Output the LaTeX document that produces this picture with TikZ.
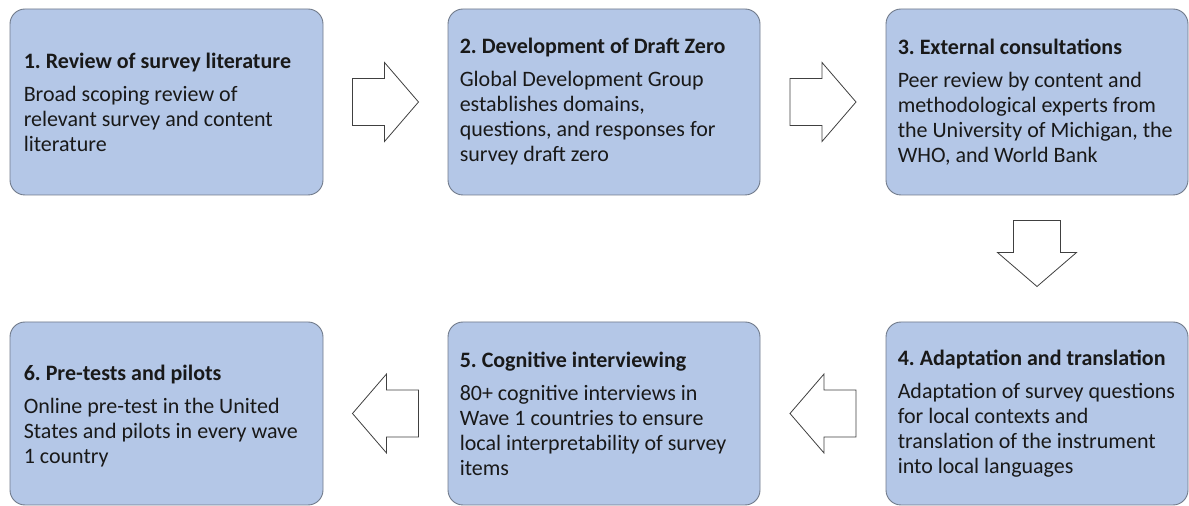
\documentclass[tikz,border=0pt]{standalone}
\usepackage{fontspec}
\setmainfont{Carlito}
\usetikzlibrary{calc}

\definecolor{stagefill}{RGB}{180,199,231}
\definecolor{stageline}{RGB}{112,122,138}

\tikzset{
  stage/.style={draw=stageline, fill=stagefill, rounded corners=15pt, line width=0.9pt},
  stagetext/.style={anchor=west, inner sep=0pt, align=left, text=black!90,
    font=\fontsize{22}{25}\selectfont\frenchspacing},
  blockarrow/.style={draw=black!75, fill=white, line width=0.8pt},
  % block arrow pointing right, centred on the pic origin
  rarrow/.pic={\draw[blockarrow] (-33,-23.5) -- (-1,-23.5) -- (-1,-39.5) -- (33,0)
      -- (-1,39.5) -- (-1,23.5) -- (-33,23.5) -- cycle;}
}

\begin{document}
\begin{tikzpicture}[x=1pt, y=1pt]
  \useasboundingbox (0,0) rectangle (1189,506);

  % top row
  \node[stage, minimum width=313pt, minimum height=186pt] (b1) at (166.5,404) {};
  \node[stage, minimum width=312pt, minimum height=186pt] (b2) at (604,404) {};
  \node[stage, minimum width=302pt, minimum height=186pt] (b3) at (1037,404) {};

  % bottom row
  \node[stage, minimum width=302pt, minimum height=183pt] (b4) at (1037,92.5) {};
  \node[stage, minimum width=312pt, minimum height=183pt] (b5) at (604,92.5) {};
  \node[stage, minimum width=313pt, minimum height=183pt] (b6) at (166.5,92.5) {};

  % texts
  \node[stagetext] (t1) at ([xshift=14pt]b1.west)
    {\textbf{1. Review of survey literature}\\[8pt]Broad scoping review of\\relevant survey and content\\literature};
  \node[stagetext] (t2) at ([xshift=12pt]b2.west)
    {\textbf{2. Development of Draft Zero}\\[8pt]Global Development Group\\establishes domains,\\questions, and responses for\\survey draft zero};
  \node[stagetext] (t3) at ([xshift=12pt]b3.west)
    {\textbf{3. External consultations}\\[8pt]Peer review by content and\\methodological experts from\\the University of Michigan, the\\WHO, and World Bank};
  \node[stagetext] (t4) at ([xshift=12pt]b4.west)
    {\textbf{4. Adaptation and translation}\\[8pt]Adaptation of survey questions\\for local contexts and\\translation of the instrument\\into local languages};
  \node[stagetext] (t5) at ([xshift=12pt]b5.west)
    {\textbf{5. Cognitive interviewing}\\[8pt]80+ cognitive interviews in\\Wave 1 countries to ensure\\local interpretability of survey\\items};
  \node[stagetext] (t6) at ([xshift=14pt, yshift=-3pt]b6.west)
    {\textbf{6. Pre-tests and pilots}\\[8pt]Online pre-test in the United\\States and pilots in every wave\\1 country};

  % arrows between the stages
  \pic at ($(b1.east)!0.5!(b2.west)$) {rarrow};
  \pic at ($(b2.east)!0.5!(b3.west)$) {rarrow};
  \pic[rotate=-90, xshift=-5pt] at ($(b3.south)!0.5!(b4.north)$) {rarrow};
  \pic[rotate=180] at ($(b4.west)!0.5!(b5.east)$) {rarrow};
  \pic[rotate=180] at ($(b5.west)!0.5!(b6.east)$) {rarrow};
\end{tikzpicture}
\end{document}
